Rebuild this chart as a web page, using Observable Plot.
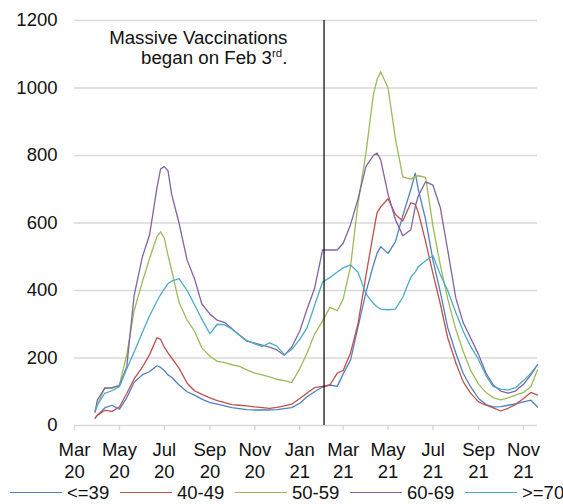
<!DOCTYPE html>
<html><head><meta charset="utf-8">
<script src="https://cdn.jsdelivr.net/npm/d3@7"></script>
<script src="https://cdn.jsdelivr.net/npm/@observablehq/plot@0.6"></script>
<style>
body{margin:0;background:#fff;font-family:"Liberation Sans",Arial,sans-serif;}
#legend{position:relative;width:563px;height:22px;font-size:18.5px;overflow:hidden;color:#111;}
#legend .sw{position:absolute;top:10px;width:52px;height:0;border-top:1.5px solid;}
#legend .lb{position:absolute;top:0;line-height:22px;white-space:nowrap;}
</style></head><body><div id="chart"></div><div id="legend"></div>
<script>
const dates = ["2020-03-29","2020-04-01","2020-04-11","2020-04-21","2020-05-01","2020-05-11","2020-05-21","2020-06-01","2020-06-11","2020-06-21","2020-06-26","2020-07-01","2020-07-06","2020-07-11","2020-07-21","2020-08-01","2020-08-11","2020-08-21","2020-09-01","2020-09-11","2020-09-21","2020-10-01","2020-10-11","2020-10-21","2020-11-01","2020-11-11","2020-11-21","2020-12-01","2020-12-11","2020-12-21","2021-01-01","2021-01-11","2021-01-21","2021-02-01","2021-02-11","2021-02-21","2021-03-01","2021-03-11","2021-03-21","2021-04-01","2021-04-11","2021-04-16","2021-04-21","2021-05-01","2021-05-11","2021-05-21","2021-06-01","2021-06-07","2021-06-11","2021-06-21","2021-07-01","2021-07-11","2021-07-21","2021-08-01","2021-08-11","2021-08-21","2021-09-01","2021-09-11","2021-09-21","2021-10-01","2021-10-11","2021-10-21","2021-11-01","2021-11-11","2021-11-20"];

const age39 = [22,30,52,60,48,82,128,150,160,177,172,163,150,143,120,100,90,78,68,63,58,53,50,47,46,46,46,47,50,53,66,85,100,114,120,116,153,194,290,395,475,510,530,510,545,622,700,748,700,610,490,395,290,215,155,115,80,62,55,56,60,64,70,75,55];
const age40 = [22,30,45,42,55,95,138,172,210,260,255,232,215,200,170,125,103,92,82,74,68,62,60,58,55,53,51,54,58,63,80,96,112,116,120,155,163,215,300,445,570,630,648,672,625,606,660,655,632,545,450,360,260,186,130,96,70,60,52,43,51,62,80,98,90];
const age50 = [40,60,112,110,120,210,340,425,495,560,574,555,505,460,365,312,280,230,205,190,186,180,175,165,155,150,144,137,133,127,168,215,270,310,350,340,375,471,655,808,980,1025,1048,1000,850,737,730,738,740,735,590,475,375,285,220,164,122,98,82,76,82,90,98,115,165];
const age60 = [40,75,110,112,118,175,385,498,565,704,760,767,755,685,600,490,435,360,330,312,305,287,268,250,244,238,232,224,208,232,280,345,405,520,520,520,540,595,670,768,800,807,787,685,610,562,580,650,680,722,712,645,520,378,305,260,210,155,120,102,96,102,122,150,180];
const age70 = [45,60,95,103,115,168,218,275,325,368,388,405,420,428,435,400,358,315,272,300,298,285,268,252,242,234,245,235,210,225,255,290,355,425,438,455,467,476,455,390,362,352,345,343,345,380,440,455,470,488,503,447,400,335,280,235,195,148,115,108,105,112,133,155,180];

const seriesNames = ["<=39","40-49","50-59","60-69",">=70"];
const seriesColors = ["#4f81bd","#c0504d","#9bbb59","#8064a2","#4bacc6"];
const tickDates = ["2020-03-01","2020-05-01","2020-07-01","2020-09-01","2020-11-01","2021-01-01","2021-03-01","2021-05-01","2021-07-01","2021-09-01","2021-11-01"];
const tickLabels = ["Mar\n20","May\n20","Jul\n20","Sep\n20","Nov\n20","Jan\n21","Mar\n21","May\n21","Jul\n21","Sep\n21","Nov\n21"];
const yTicks = [0,200,400,600,800,1000,1200];
const vaccinationDate = "2021-02-03";
const noteLine1 = "Massive Vaccinations";
const noteLine2 = "began on Feb 3";
const noteSup = "rd";
const noteEnd = ".";

const valueLists = [age39, age40, age50, age60, age70];
valueLists.forEach((v,i)=>{ if (v.length !== dates.length) console.error("length mismatch", seriesNames[i], v.length, dates.length); });
const rows = [];
seriesNames.forEach((s,i)=> dates.forEach((d,j)=> rows.push({date:new Date(d), value:valueLists[i][j], series:s})));

const font = '"Liberation Sans", Arial, sans-serif';
const chart = Plot.plot({
  width:563, height:482, marginLeft:74, marginRight:26, marginTop:20, marginBottom:57,
  style:{fontSize:"18.5px", fontFamily:font, background:"transparent", color:"#111", overflow:"visible"},
  x:{type:"utc", domain:[new Date("2020-03-01"), new Date("2021-11-20")]},
  y:{domain:[0,1200]},
  color:{domain:seriesNames, range:seriesColors},
  marks:[
    Plot.gridY(yTicks, {stroke:"#d9d9d9", strokeOpacity:1, strokeWidth:1.5}),
    Plot.axisY(yTicks, {tickSize:0, tickPadding:17, label:null, tickFormat: d => String(d)}),
    Plot.axisX(tickDates.map(d=>new Date(d)), {tickSize:5, tickPadding:10, stroke:"#d9d9d9", strokeWidth:1.5, strokeOpacity:1, label:null, lineHeight:1.2,
      tickFormat: d => tickLabels[tickDates.indexOf(d.toISOString().slice(0,10))]}),
    Plot.lineY(rows, {x:"date", y:"value", stroke:"series", strokeWidth:1.3}),
    Plot.ruleX([new Date(vaccinationDate)], {stroke:"#000", strokeWidth:1.2})
  ]
});
document.getElementById("chart").appendChild(chart);

// annotation positioned through the chart scales
const sx = chart.scale("x"), sy = chart.scale("y");
const noteX = sx.apply(new Date("2020-12-16"));
const t = d3.select(chart).append("text").attr("text-anchor","end")
  .attr("font-family", font).attr("font-size", 18.7).attr("fill", "#111");
t.append("tspan").attr("x", noteX).attr("y", sy.apply(1130)).text(noteLine1);
const t2 = d3.select(chart).append("text").attr("text-anchor","end")
  .attr("font-family", font).attr("font-size", 18.7).attr("fill", "#111")
  .attr("x", noteX).attr("y", sy.apply(1071));
t2.append("tspan").text(noteLine2);
t2.append("tspan").attr("font-size", 11.5).attr("dy", -7).text(noteSup);
t2.append("tspan").attr("dy", 7).text(noteEnd);

// legend
const legendStarts = [10,120,235,350,465];
const legend = d3.select("#legend");
seriesNames.forEach((s,i)=>{
  legend.append("div").attr("class","sw").style("left", legendStarts[i]+"px").style("border-color", seriesColors[i]);
  legend.append("div").attr("class","lb").style("left", (legendStarts[i]+57)+"px").text(s);
});
</script></body></html>
